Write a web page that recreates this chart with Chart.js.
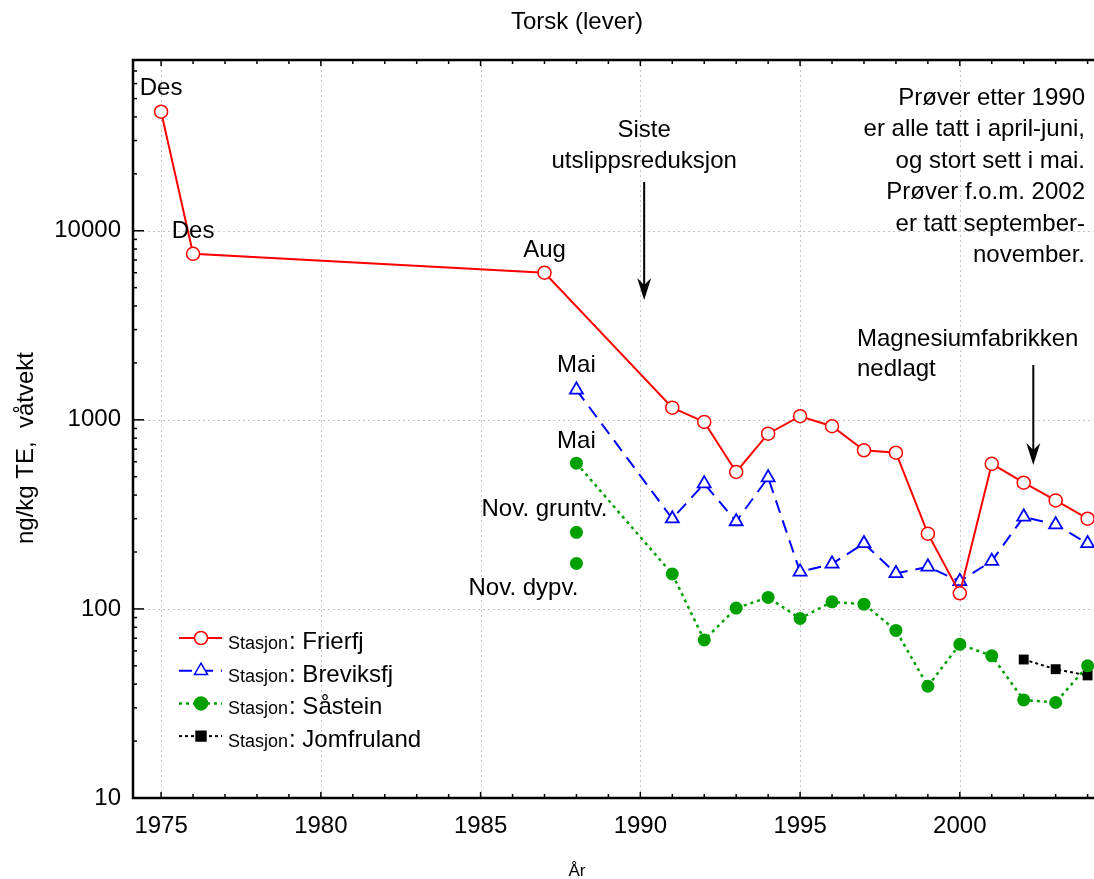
<!DOCTYPE html>
<html>
<head>
<meta charset="utf-8">
<script src="https://cdn.jsdelivr.net/npm/chart.js@4.4.0/dist/chart.umd.min.js"></script>
<style>
  html, body { margin: 0; padding: 0; background: #fff; }
  #wrap { width: 1094px; height: 879px; }
</style>
</head>
<body>
<div id="wrap"><canvas id="myChart" width="1094" height="879"></canvas></div>
<script>
// data
const frierfjYears  = [1975, 1976, 1987, 1991, 1992, 1993, 1994, 1995, 1996, 1997, 1998, 1999, 2000, 2001, 2002, 2003, 2004];
const frierfjValues = [42600, 7550, 6000, 1160, 975, 530, 845, 1045, 925, 690, 670, 250, 121, 585, 465, 375, 300];

const breviksYears  = [1988, 1991, 1992, 1993, 1994, 1995, 1996, 1997, 1998, 1999, 2000, 2001, 2002, 2003, 2004];
const breviksValues = [1440, 300, 460, 290, 495, 157, 173, 222, 154, 167, 140, 179, 307, 279, 222];

const sasteinYears  = [1988, 1991, 1992, 1993, 1994, 1995, 1996, 1997, 1998, 1999, 2000, 2001, 2002, 2003, 2004];
const sasteinValues = [590, 153, 68.5, 101, 115, 89, 109, 106, 77, 39, 65, 56.5, 33, 32, 50];

// Såstein, november 1988 (gruntvann / dypvann), not joined by a line
const sasteinNovYears  = [1988, 1988];
const sasteinNovValues = [254, 174];

const jomfrulandYears  = [2002, 2003, 2004];
const jomfrulandValues = [54, 48, 44.5];

const xTicks = [1975, 1980, 1985, 1990, 1995, 2000];
const yTicks = [10, 100, 1000, 10000];

const FONT = "'Liberation Sans', Arial, sans-serif";

const pts = (xs, ys) => xs.map((x, i) => ({ x: x, y: ys[i] }));

// text next to single points: [text, year, value, dx, dy, align]
const pointNotes = [
    ['Des', 1975, frierfjValues[0], 0, -17, 'center'],
    ['Des', 1976, frierfjValues[1], 0, -16, 'center'],
    ['Aug', 1987, frierfjValues[2], 0, -16, 'center'],
    ['Mai', 1988, breviksValues[0], 0, -18, 'center'],
    ['Mai', 1988, sasteinValues[0], 0, -15, 'center'],
    ['Nov. gruntv.', 1988, sasteinNovValues[0], -32, -16, 'center'],
    ['Nov. dypv.', 1988, sasteinNovValues[1], -53, 32, 'center']
];

const legendItems = [
    { name: 'Frierfj', color: '#ff0000', dash: [], style: 'circle', fill: '#ffffff', radius: 6.5, lw: 2 },
    { name: 'Breviksfj', color: '#0000ff', dash: [13, 8], style: 'triangle', fill: '#ffffff', radius: 7.5, lw: 2 },
    { name: 'Såstein', color: '#00a000', dash: [3, 4], style: 'circle', fill: '#00a000', radius: 6.5, lw: 2.5 },
    { name: 'Jomfruland', color: '#000000', dash: [3, 3], style: 'rect', fill: '#000000', radius: 7, lw: 2 }
];

function drawArrow(ctx, x, y1, y2) {
    ctx.save();
    ctx.strokeStyle = '#000';
    ctx.fillStyle = '#000';
    ctx.lineWidth = 2;
    ctx.setLineDash([]);
    ctx.beginPath();
    ctx.moveTo(x, y1);
    ctx.lineTo(x, y2 - 10);
    ctx.stroke();
    ctx.beginPath();
    ctx.moveTo(x, y2);
    ctx.lineTo(x - 7, y2 - 22);
    ctx.lineTo(x, y2 - 15);
    ctx.lineTo(x + 7, y2 - 22);
    ctx.closePath();
    ctx.fill();
    ctx.restore();
}

const framePlugin = {
    id: 'frame',
    beforeDatasetsDraw(chart) {
        const { ctx, chartArea: a, scales: { x, y } } = chart;
        ctx.save();
        ctx.strokeStyle = '#c4c4c4';
        ctx.lineWidth = 1;
        ctx.setLineDash([2, 3]);
        xTicks.forEach(v => {
            const px = Math.round(x.getPixelForValue(v)) + 0.5;
            ctx.beginPath(); ctx.moveTo(px, a.top); ctx.lineTo(px, a.bottom); ctx.stroke();
        });
        yTicks.forEach(v => {
            const py = Math.round(y.getPixelForValue(v)) + 0.5;
            ctx.beginPath(); ctx.moveTo(a.left, py); ctx.lineTo(a.right, py); ctx.stroke();
        });
        ctx.restore();
    },
    afterDraw(chart) {
        const { ctx, chartArea: a, scales: { x, y } } = chart;
        ctx.save();
        ctx.setLineDash([]);
        ctx.strokeStyle = '#000';

        // axis ticks pointing inward
        ctx.lineWidth = 1.5;
        for (let yr = 1975; yr <= 2004; yr++) {
            const px = x.getPixelForValue(yr);
            const len = yr % 5 === 0 ? 6 : 4;
            ctx.beginPath(); ctx.moveTo(px, a.bottom); ctx.lineTo(px, a.bottom - len); ctx.stroke();
            ctx.beginPath(); ctx.moveTo(px, a.top); ctx.lineTo(px, a.top + len); ctx.stroke();
        }
        for (let k = 10; k <= 10000; k *= 10) {
            for (let m = 1; m <= 9; m++) {
                const v = m * k;
                if (v > y.max) break;
                const py = y.getPixelForValue(v);
                const len = m === 1 ? 11 : 4;
                ctx.beginPath(); ctx.moveTo(a.left, py); ctx.lineTo(a.left + len, py); ctx.stroke();
            }
        }

        // frame
        ctx.lineWidth = 2.5;
        ctx.beginPath();
        ctx.moveTo(a.right + 2, a.top);
        ctx.lineTo(a.left, a.top);
        ctx.lineTo(a.left, a.bottom);
        ctx.lineTo(a.right + 2, a.bottom);
        ctx.stroke();

        ctx.fillStyle = '#000';
        ctx.textBaseline = 'alphabetic';

        // titles
        ctx.font = '24px ' + FONT;
        ctx.textAlign = 'center';
        ctx.fillText('Torsk (lever)', 577, 29);
        ctx.font = '17px ' + FONT;
        ctx.fillText('År', 577, 876);
        ctx.save();
        ctx.translate(33, 448);
        ctx.rotate(-Math.PI / 2);
        ctx.font = '24px ' + FONT;
        ctx.fillText('ng/kg TE,  våtvekt', 0, 0);
        ctx.restore();

        // point notes
        ctx.font = '24px ' + FONT;
        pointNotes.forEach(([t, yr, v, dx, dy, al]) => {
            ctx.textAlign = al;
            ctx.fillText(t, x.getPixelForValue(yr) + dx, y.getPixelForValue(v) + dy);
        });

        // arrows and their text
        const ax1 = x.getPixelForValue(1990.12);
        ctx.textAlign = 'center';
        ctx.fillText('Siste', ax1, 137);
        ctx.fillText('utslippsreduksjon', ax1, 168);
        drawArrow(ctx, ax1, 182, 300);

        const ax2 = x.getPixelForValue(2002.3);
        ctx.textAlign = 'left';
        ctx.fillText('Magnesiumfabrikken', 857, 346);
        ctx.fillText('nedlagt', 857, 376);
        drawArrow(ctx, ax2, 365, 465);

        const note = ['Prøver etter 1990', 'er alle tatt i april-juni,', 'og stort sett i mai.',
                      'Prøver f.o.m. 2002', 'er tatt september-', 'november.'];
        ctx.textAlign = 'right';
        note.forEach((t, i) => ctx.fillText(t, 1085, 105 + i * 31.4));

        // legend
        legendItems.forEach((it, i) => {
            const cy = 638 + i * 32.7;
            ctx.save();
            ctx.strokeStyle = it.color;
            ctx.lineWidth = it.lw;
            ctx.setLineDash(it.dash);
            ctx.beginPath(); ctx.moveTo(179, cy); ctx.lineTo(222, cy); ctx.stroke();
            ctx.setLineDash([]);
            ctx.lineWidth = 1.5;
            ctx.fillStyle = it.fill;
            Chart.helpers.drawPoint(ctx, { pointStyle: it.style, radius: it.radius, borderWidth: 1.5, rotation: 0 }, 201, cy);
            ctx.restore();
            ctx.textAlign = 'left';
            ctx.font = '18px ' + FONT;
            ctx.fillText('Stasjon', 228, cy + 11);
            const w = ctx.measureText('Stasjon').width;
            ctx.font = '24px ' + FONT;
            ctx.fillText(': ' + it.name, 228 + w + 1, cy + 11);
        });

        ctx.restore();
    }
};

const ctx = document.getElementById('myChart').getContext('2d');

new Chart(ctx, {
    type: 'line',
    data: {
        datasets: [{
            label: 'Frierfj',
            data: pts(frierfjYears, frierfjValues),
            borderColor: '#ff0000',
            borderWidth: 2,
            pointStyle: 'circle',
            pointRadius: 6.5,
            pointBorderWidth: 1.5,
            pointBackgroundColor: '#ffffff',
            pointBorderColor: '#ff0000'
        }, {
            label: 'Breviksfj',
            data: pts(breviksYears, breviksValues),
            borderColor: '#0000ff',
            borderWidth: 2,
            borderDash: [13, 8],
            pointStyle: 'triangle',
            pointRadius: 7.5,
            pointBorderWidth: 1.8,
            pointBackgroundColor: '#ffffff',
            pointBorderColor: '#0000ff'
        }, {
            label: 'Såstein',
            data: pts(sasteinYears, sasteinValues),
            borderColor: '#00a000',
            borderWidth: 2.5,
            borderDash: [3, 4],
            pointStyle: 'circle',
            pointRadius: 6.5,
            pointBorderWidth: 0,
            pointBackgroundColor: '#00a000'
        }, {
            label: 'Såstein nov',
            data: pts(sasteinNovYears, sasteinNovValues),
            showLine: false,
            pointStyle: 'circle',
            pointRadius: 6.5,
            pointBorderWidth: 0,
            pointBackgroundColor: '#00a000'
        }, {
            label: 'Jomfruland',
            data: pts(jomfrulandYears, jomfrulandValues),
            borderColor: '#000000',
            borderWidth: 2,
            borderDash: [3, 3],
            pointStyle: 'rect',
            pointRadius: 7,
            pointBorderWidth: 0,
            pointBackgroundColor: '#000000'
        }]
    },
    options: {
        responsive: false,
        animation: false,
        devicePixelRatio: 1,
        clip: false,
        layout: { autoPadding: false, padding: { top: 60, right: 0, bottom: 0, left: 0 } },
        plugins: {
            legend: { display: false },
            tooltip: { enabled: false }
        },
        scales: {
            x: {
                type: 'linear',
                min: 1974.12,
                max: 2004.2,
                grid: { display: false, drawTicks: false },
                border: { display: false },
                afterFit: s => { s.height = 81; },
                afterBuildTicks: s => { s.ticks = xTicks.map(v => ({ value: v })); },
                ticks: {
                    padding: 14,
                    color: '#000',
                    font: { family: FONT, size: 24 },
                    callback: v => String(v)
                }
            },
            y: {
                type: 'logarithmic',
                min: 10,
                max: 80000,
                grid: { display: false, drawTicks: false },
                border: { display: false },
                afterFit: s => { s.width = 133; },
                afterBuildTicks: s => { s.ticks = yTicks.map(v => ({ value: v })); },
                ticks: {
                    padding: 12,
                    autoSkip: false,
                    color: '#000',
                    font: { family: FONT, size: 24 },
                    callback: v => String(v)
                }
            }
        }
    },
    plugins: [framePlugin]
});
</script>
</body>
</html>
